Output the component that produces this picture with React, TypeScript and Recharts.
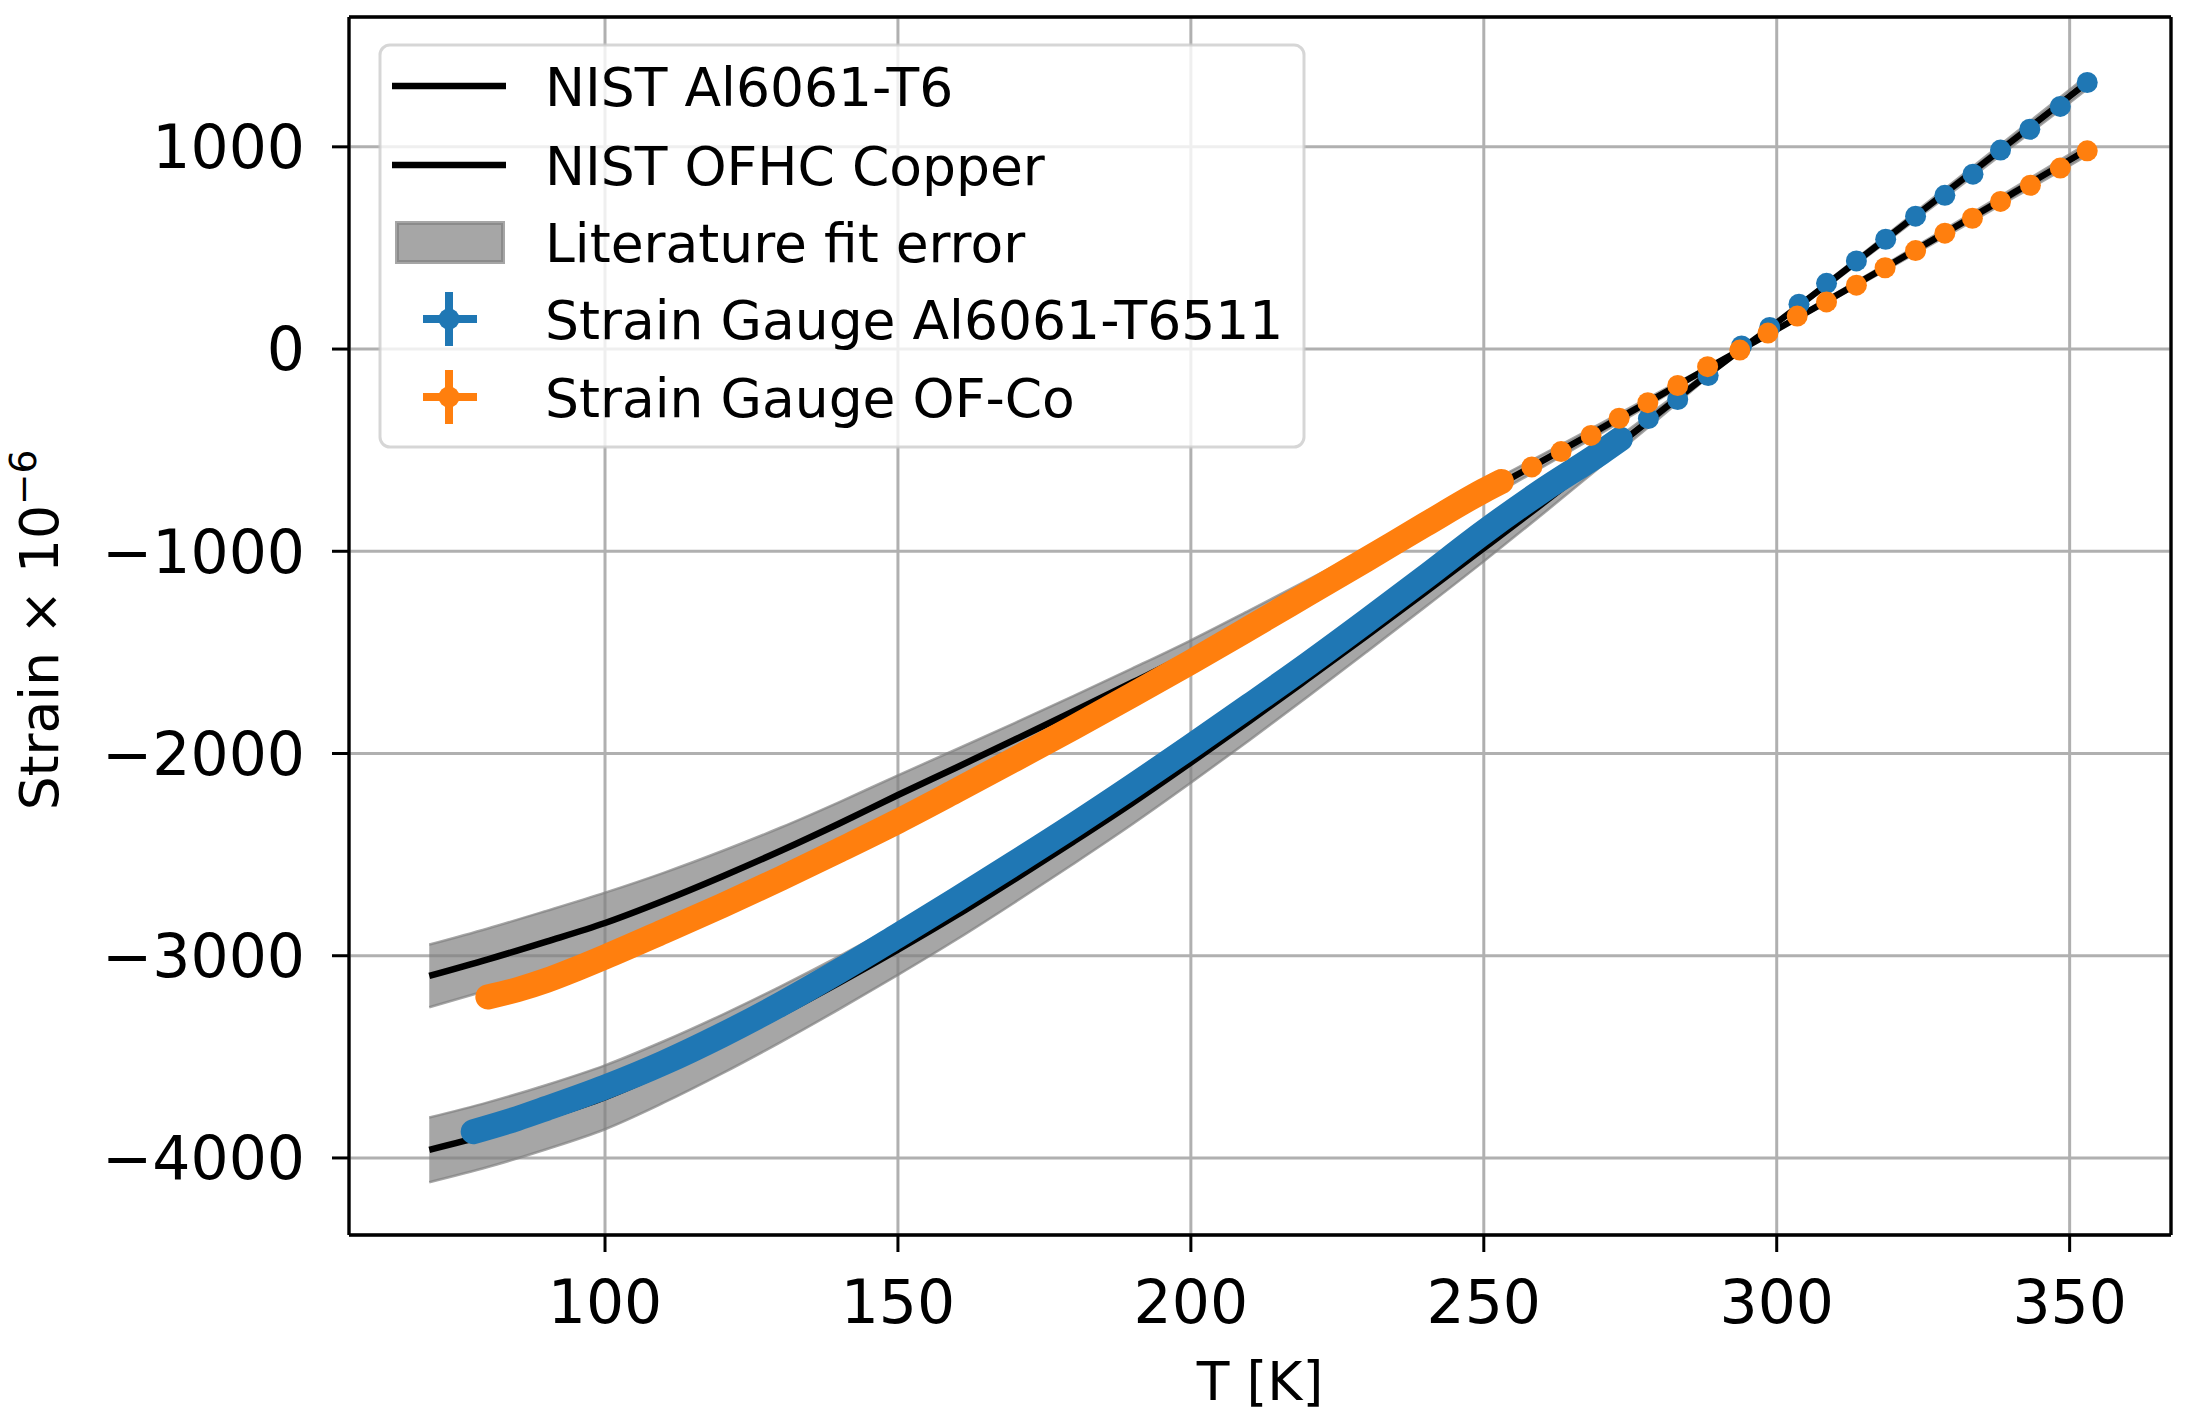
import React from 'react';
import { ComposedChart, Line, Area, Scatter, XAxis, YAxis, CartesianGrid, ReferenceLine } from 'recharts';

const FONT = '"DejaVu Sans", sans-serif';
const BLUE = '#1f77b4';
const ORANGE = '#ff7f0e';

// NIST literature curves, strain x 1e-6
const nistT = [70, 80, 90, 100, 110, 120, 130, 140, 150, 160, 170, 180, 190, 200, 210, 220, 230, 240, 250, 260, 270, 280, 290, 300, 310, 320, 330, 340, 350, 353.5];
const nistAl = [-3960, -3885, -3798, -3700, -3575, -3437, -3289, -3133, -2970, -2800, -2620, -2435, -2245, -2045, -1840, -1630, -1418, -1203, -985, -765, -540, -313, -87, 130, 352, 576, 800, 1025, 1250, 1330];
const nistCu = [-3100, -3018, -2930, -2838, -2728, -2608, -2481, -2346, -2205, -2069, -1931, -1791, -1649, -1505, -1351, -1194, -1035, -874, -712, -553, -392, -230, -66, 97, 262, 428, 596, 765, 935, 995];
// half width of the literature fit error band
const errAl = [160, 160, 159, 158, 152, 145, 138, 131, 125, 120, 115, 110, 105, 100, 94, 88, 80, 73, 65, 52, 40, 28, 12, 8, 14, 18, 23, 27, 32, 33];
const errCu = [155, 153, 152, 150, 138, 126, 115, 106, 97, 90, 83, 76, 70, 65, 59, 53, 47, 42, 38, 31, 25, 18, 8, 7, 12, 16, 20, 24, 28, 29];

// strain gauge Al6061-T6511, dense sweep
const alDenseT = [77.5, 85, 90, 100, 110, 120, 130, 140, 150, 160, 170, 180, 190, 200, 210, 220, 230, 240, 250, 260, 270, 273.3];
const alDense = [-3870, -3805, -3755, -3650, -3530, -3392, -3240, -3075, -2900, -2722, -2540, -2355, -2163, -1965, -1763, -1558, -1345, -1127, -905, -700, -512, -445];
// strain gauge OF-Co, dense sweep
const cuDenseT = [80, 85, 90, 95, 100, 110, 120, 130, 140, 150, 160, 170, 180, 190, 200, 210, 220, 230, 240, 250, 253];
const cuDense = [-3204, -3168, -3122, -3066, -3006, -2880, -2752, -2618, -2478, -2335, -2183, -2028, -1871, -1711, -1548, -1380, -1210, -1040, -868, -700, -655];

// sparse points above the dense sweeps
const alSparseT = [278.1, 283.1, 288.3, 294.0, 298.8, 303.8, 308.5, 313.6, 318.6, 323.7, 328.7, 333.5, 338.2, 343.2, 348.4, 353.0];
const alSparse = [-344, -250, -131, 15, 107, 222, 325, 436, 543, 657, 760, 865, 984, 1087, 1200, 1318];
const cuSparseT = [258.2, 263.2, 268.3, 273.1, 278.0, 283.1, 288.2, 293.7, 298.5, 303.5, 308.5, 313.6, 318.5, 323.7, 328.7, 333.4, 338.2, 343.3, 348.4, 353.0];
const cuSparse = [-583, -507, -427, -342, -265, -180, -87, -5, 79, 163, 233, 316, 402, 487, 573, 647, 730, 810, 895, 980];

const xTicks = [100, 150, 200, 250, 300, 350];
const yTicks = [-4000, -3000, -2000, -1000, 0, 1000];
const xDomain = [56.3, 367.3];
const yDomain = [-4381, 1642];

const legendLabels = ['NIST Al6061-T6', 'NIST OFHC Copper', 'Literature fit error', 'Strain Gauge Al6061-T6511', 'Strain Gauge OF-Co'];

const nistRows = nistT.map((T, i) => ({
  T,
  al: nistAl[i],
  cu: nistCu[i],
  alBand: [nistAl[i] - errAl[i], nistAl[i] + errAl[i]],
  cuBand: [nistCu[i] - errCu[i], nistCu[i] + errCu[i]],
}));
const toRows = (ts: number[], vs: number[]) => ts.map((T, i) => ({ T, v: vs[i] }));
const alDenseRows = toRows(alDenseT, alDense);
const cuDenseRows = toRows(cuDenseT, cuDense);
const alSparseRows = toRows(alSparseT, alSparse);
const cuSparseRows = toRows(cuSparseT, cuSparse);

const fmtY = (v: number) => (v < 0 ? '\u2212' + Math.abs(v) : String(v));

const dot = (color: string) => (p: any) => <circle cx={p.cx} cy={p.cy} r={10.5} fill={color} />;

const XLabel = (props: any) => {
  const vb = props.viewBox;
  return (
    <text x={vb.x + vb.width / 2} y={vb.y + 165} textAnchor="middle" fontSize={53.5} fontFamily={FONT} fill="#000">
      T [K]
    </text>
  );
};

const YLabel = (props: any) => {
  const vb = props.viewBox;
  const cx = vb.x + 58;
  const cy = vb.y + vb.height / 2 + 4;
  return (
    <text x={cx} y={cy} transform={`rotate(-90, ${cx}, ${cy})`} textAnchor="middle" fontSize={53.5} fontFamily={FONT} fill="#000">
      Strain × 10<tspan dy={-22} fontSize={37.5}>{'\u2212'}6</tspan>
    </text>
  );
};

const LegendBox = () => {
  const rows = [86, 165, 242, 319, 397];
  return (
    <svg width={2186} height={1422} style={{ position: 'absolute', left: 0, top: 0, pointerEvents: 'none' }}>
      <rect x={380} y={45} width={924} height={402} rx={10} fill="#fff" fillOpacity={0.8} stroke="#cccccc" strokeOpacity={0.8} strokeWidth={3} />
      <line x1={392} x2={506} y1={rows[0]} y2={rows[0]} stroke="#000" strokeWidth={6.5} />
      <line x1={392} x2={506} y1={rows[1]} y2={rows[1]} stroke="#000" strokeWidth={6.5} />
      <rect x={397} y={rows[2] - 19} width={106} height={39} fill="#808080" fillOpacity={0.7} stroke="#808080" strokeOpacity={0.7} strokeWidth={4} />
      {[BLUE, ORANGE].map((c, k) => (
        <g key={c}>
          <line x1={423} x2={477} y1={rows[3 + k]} y2={rows[3 + k]} stroke={c} strokeWidth={8} />
          <line x1={449} x2={449} y1={rows[3 + k] - 27} y2={rows[3 + k] + 27} stroke={c} strokeWidth={8} />
          <circle cx={449} cy={rows[3 + k]} r={10.5} fill={c} />
        </g>
      ))}
      {legendLabels.map((t, i) => (
        <text key={t} x={545} y={rows[i] + 19.5} fontSize={53.5} fontFamily={FONT} fill="#000">
          {t}
        </text>
      ))}
    </svg>
  );
};

const App: React.FC = () => {
  return (
    <div style={{ position: 'absolute', left: 0, top: 0, width: 2186, height: 1422, background: '#fff' }}>
      <ComposedChart width={2186} height={1422} margin={{ top: 17, right: 15, left: 0, bottom: 0 }}>
        <CartesianGrid stroke="#b0b0b0" strokeWidth={3} />
        <XAxis
          type="number"
          dataKey="T"
          domain={xDomain}
          ticks={xTicks}
          allowDataOverflow
          height={187}
          tickSize={17}
          tickMargin={28}
          tickLine={{ stroke: '#000', strokeWidth: 3 }}
          axisLine={{ stroke: '#000', strokeWidth: 3.3 }}
          tick={{ fill: '#000', fontSize: 60, fontFamily: FONT }}
          label={{ content: XLabel }}
        />
        <YAxis
          type="number"
          domain={yDomain}
          ticks={yTicks}
          allowDataOverflow
          width={349}
          tickSize={17}
          tickMargin={27}
          tickFormatter={fmtY}
          tickLine={{ stroke: '#000', strokeWidth: 3 }}
          axisLine={{ stroke: '#000', strokeWidth: 3.3 }}
          tick={{ fill: '#000', fontSize: 60, fontFamily: FONT }}
          label={{ content: YLabel }}
        />
        <Area data={nistRows} dataKey="alBand" type="monotone" fill="#808080" fillOpacity={0.7} stroke="#808080" strokeOpacity={0.7} strokeWidth={2.5} isAnimationActive={false} />
        <Area data={nistRows} dataKey="cuBand" type="monotone" fill="#808080" fillOpacity={0.7} stroke="#808080" strokeOpacity={0.7} strokeWidth={2.5} isAnimationActive={false} />
        <Line data={nistRows} dataKey="al" type="monotone" stroke="#000" strokeWidth={6.5} dot={false} isAnimationActive={false} />
        <Line data={nistRows} dataKey="cu" type="monotone" stroke="#000" strokeWidth={6.5} dot={false} isAnimationActive={false} />
        <Line data={alDenseRows} dataKey="v" type="monotone" stroke={BLUE} strokeWidth={25} strokeLinecap="round" dot={false} isAnimationActive={false} />
        <Line data={cuDenseRows} dataKey="v" type="monotone" stroke={ORANGE} strokeWidth={25} strokeLinecap="round" dot={false} isAnimationActive={false} />
        <Scatter data={alSparseRows} dataKey="v" fill={BLUE} shape={dot(BLUE)} isAnimationActive={false} />
        <Scatter data={cuSparseRows} dataKey="v" fill={ORANGE} shape={dot(ORANGE)} isAnimationActive={false} />
        <ReferenceLine y={yDomain[1]} stroke="#000" strokeWidth={3.3} />
        <ReferenceLine x={xDomain[1]} stroke="#000" strokeWidth={3.3} />
      </ComposedChart>
      <LegendBox />
    </div>
  );
};

export default App;
